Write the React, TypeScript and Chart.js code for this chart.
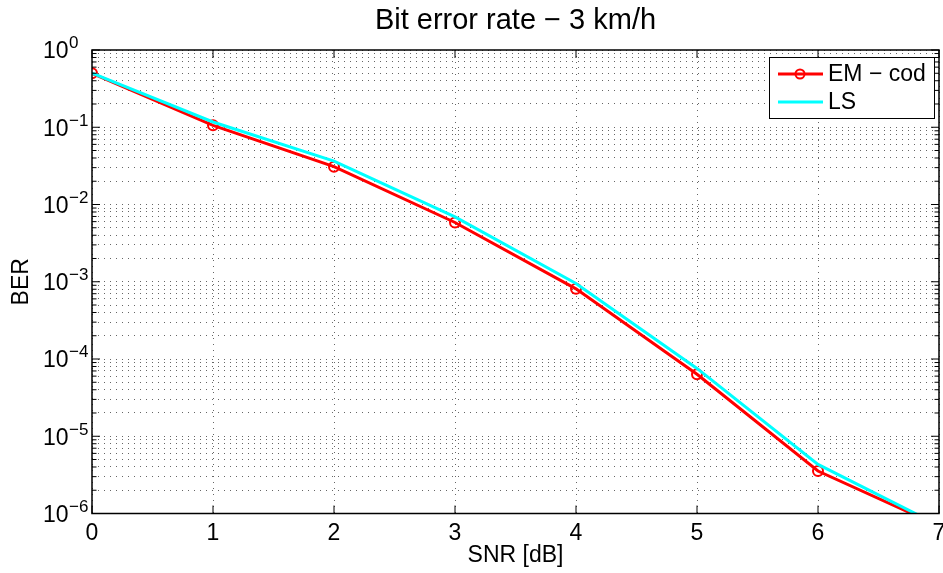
import React, { useEffect, useRef } from 'react';
import { Chart, registerables } from 'chart.js';

Chart.register(...registerables);

// ---- data ----
const chartTitle = 'Bit error rate \u2212 3 km/h';
const xAxisLabel = 'SNR [dB]';
const yAxisLabel = 'BER';
const snrDb = [0, 1, 2, 3, 4, 5, 6, 7];
const berEmCod = [0.5, 0.106, 0.0309, 0.00585, 0.00081, 0.0000635, 0.00000355, 0.00000069];
const berLs = [0.5, 0.117, 0.0365, 0.0069, 0.00095, 0.0000755, 0.00000432, 0.0000007];
const seriesNames = ['EM \u2212 cod', 'LS'];
const xTicks = [0, 1, 2, 3, 4, 5, 6, 7];
const xTickLabels = ['0', '1', '2', '3', '4', '5', '6', '7'];
const yDecadeExponents = [-6, -5, -4, -3, -2, -1, 0];
const yMinorMultipliers = [1, 2, 3, 4, 5, 6, 7, 8, 9];

const FONT = '"Liberation Sans", Arial, Helvetica, sans-serif';

const yTickValues: number[] = [];
yDecadeExponents.forEach((e, i) => {
  if (i === yDecadeExponents.length - 1) {
    yTickValues.push(Math.pow(10, e));
  } else {
    yMinorMultipliers.forEach((m) => yTickValues.push(m * Math.pow(10, e)));
  }
});
const isDecade = (v: number) => {
  const l = Math.log10(v);
  return Math.abs(l - Math.round(l)) < 1e-9;
};
const expText = (e: number) => (e < 0 ? '\u2212' + String(-e) : String(e));

const axesBoxPlugin = {
  id: 'matlabAxesBox',
  afterDatasetsDraw(chart: any) {
    const { ctx, chartArea } = chart;
    const { left, right, top, bottom } = chartArea;
    const xs = chart.scales.x;
    const ys = chart.scales.y;
    ctx.save();
    ctx.strokeStyle = '#000';
    ctx.lineWidth = 1.5;
    ctx.setLineDash([]);
    ctx.strokeRect(left, top, right - left, bottom - top);
    ctx.lineWidth = 1;
    ctx.beginPath();
    xTicks.forEach((v) => {
      const px = xs.getPixelForValue(v);
      ctx.moveTo(px, bottom);
      ctx.lineTo(px, bottom - 8);
      ctx.moveTo(px, top);
      ctx.lineTo(px, top + 8);
    });
    yTickValues.forEach((v) => {
      const py = ys.getPixelForValue(v);
      const len = isDecade(v) ? 8 : 4.5;
      ctx.moveTo(left, py);
      ctx.lineTo(left + len, py);
      ctx.moveTo(right, py);
      ctx.lineTo(right - len, py);
    });
    ctx.stroke();
    ctx.restore();
  },
};

const tickLabelPlugin = {
  id: 'matlabTickLabels',
  afterDraw(chart: any) {
    const { ctx } = chart;
    const xs = chart.scales.x;
    const ys = chart.scales.y;
    ctx.save();
    ctx.fillStyle = '#000';
    ctx.textBaseline = 'alphabetic';
    yDecadeExponents.forEach((e) => {
      const py = ys.getPixelForValue(Math.pow(10, e));
      ctx.font = `23px ${FONT}`;
      ctx.textAlign = 'right';
      ctx.fillText('10', 68.5, py + 8.3);
      ctx.font = `17px ${FONT}`;
      ctx.textAlign = 'left';
      ctx.fillText(expText(e), 69, py - 1.7);
    });
    ctx.font = `23px ${FONT}`;
    ctx.textAlign = 'center';
    xTicks.forEach((v, i) => {
      const px = xs.getPixelForValue(v);
      ctx.fillText(xTickLabels[i], px, 540);
    });
    ctx.restore();
  },
};

const legendBoxPlugin = {
  id: 'matlabLegend',
  afterDraw(chart: any) {
    const { ctx } = chart;
    const datasets = chart.data.datasets;
    const bx = 769;
    const by = 57;
    const bw = 165;
    const bh = 61;
    ctx.save();
    ctx.fillStyle = '#fff';
    ctx.fillRect(bx, by, bw, bh);
    ctx.strokeStyle = '#000';
    ctx.lineWidth = 1;
    ctx.strokeRect(bx + 0.5, by + 0.5, bw, bh);
    datasets.forEach((ds: any, i: number) => {
      const cy = by + 17 + i * 28;
      ctx.strokeStyle = ds.borderColor;
      ctx.lineWidth = ds.borderWidth;
      ctx.beginPath();
      ctx.moveTo(bx + 9, cy);
      ctx.lineTo(bx + 54, cy);
      ctx.stroke();
      if (ds.pointRadius > 0) {
        ctx.lineWidth = ds.pointBorderWidth;
        ctx.strokeStyle = ds.pointBorderColor;
        ctx.beginPath();
        ctx.arc(bx + 31, cy, ds.pointRadius - 0.5, 0, Math.PI * 2);
        ctx.stroke();
      }
      ctx.fillStyle = '#000';
      ctx.font = `23px ${FONT}`;
      ctx.textBaseline = 'middle';
      ctx.textAlign = 'left';
      ctx.fillText(ds.label, bx + 59, cy + 1);
    });
    ctx.restore();
  },
};

// The canvas is 3px wider than the visible frame so that the plot's right edge
// lands at x = 941 and the last x tick label is clipped by the frame, as in the reference.
const CANVAS_W = 946;
const FRAME_W = 943;
const FRAME_H = 573;

export default function App() {
  const canvasRef = useRef<HTMLCanvasElement | null>(null);

  useEffect(() => {
    const canvas = canvasRef.current;
    if (!canvas) return;
    const gridOpts = {
      color: 'rgba(0,0,0,0.6)',
      lineWidth: 1,
      drawTicks: false,
    };
    const chart = new Chart(canvas, {
      type: 'line',
      data: {
        datasets: [
          {
            label: seriesNames[0],
            data: snrDb.map((x, i) => ({ x, y: berEmCod[i] })),
            borderColor: '#ff0000',
            backgroundColor: 'rgba(0,0,0,0)',
            borderWidth: 3,
            pointRadius: 5,
            pointBorderWidth: 2,
            pointBorderColor: '#ff0000',
            pointBackgroundColor: 'rgba(0,0,0,0)',
            tension: 0,
            order: 1,
          },
          {
            label: seriesNames[1],
            data: snrDb.map((x, i) => ({ x, y: berLs[i] })),
            borderColor: '#00ffff',
            backgroundColor: 'rgba(0,0,0,0)',
            borderWidth: 3,
            pointRadius: 0,
            pointBorderWidth: 0,
            pointBorderColor: '#00ffff',
            tension: 0,
            order: 0,
          },
        ],
      },
      options: {
        responsive: false,
        animation: false,
        events: [],
        layout: { padding: { left: 0, right: 0, top: 0, bottom: 0 } },
        plugins: {
          legend: { display: false },
          tooltip: { enabled: false },
          title: {
            display: true,
            text: chartTitle,
            fullSize: false,
            color: '#000',
            font: { family: FONT, size: 29, weight: 'normal' },
            padding: { top: 3.3, bottom: 11.9 },
          },
        },
        scales: {
          x: {
            type: 'linear',
            min: 0,
            max: 7,
            afterBuildTicks: (scale: any) => {
              scale.ticks = xTicks.map((v) => ({ value: v }));
            },
            afterFit: (scale: any) => {
              scale.height = 59.5;
            },
            ticks: { display: false, autoSkip: false },
            grid: { ...gridOpts },
            border: { display: false, dash: [1, 5] },
            title: {
              display: true,
              text: xAxisLabel,
              color: '#000',
              font: { family: FONT, size: 23 },
              padding: { top: 0, bottom: 3.2 },
            },
          },
          y: {
            type: 'logarithmic',
            min: 1e-6,
            max: 1,
            afterBuildTicks: (scale: any) => {
              scale.ticks = yTickValues.map((v) => ({ value: v }));
            },
            afterFit: (scale: any) => {
              scale.width = 92;
            },
            ticks: { display: false, autoSkip: false },
            grid: { ...gridOpts },
            border: { display: false, dash: [1, 5] },
            title: {
              display: true,
              text: yAxisLabel,
              color: '#000',
              font: { family: FONT, size: 23 },
              padding: { top: 8.2, bottom: 0 },
            },
          },
        },
      },
      plugins: [axesBoxPlugin, tickLabelPlugin, legendBoxPlugin],
    } as any);
    return () => chart.destroy();
  }, []);

  return (
    <div
      style={{
        position: 'absolute',
        left: 0,
        top: 0,
        width: FRAME_W,
        height: FRAME_H,
        overflow: 'hidden',
        background: '#fff',
      }}
    >
      <canvas
        ref={canvasRef}
        width={CANVAS_W}
        height={FRAME_H}
        style={{ width: CANVAS_W, height: FRAME_H, display: 'block' }}
      />
    </div>
  );
}
